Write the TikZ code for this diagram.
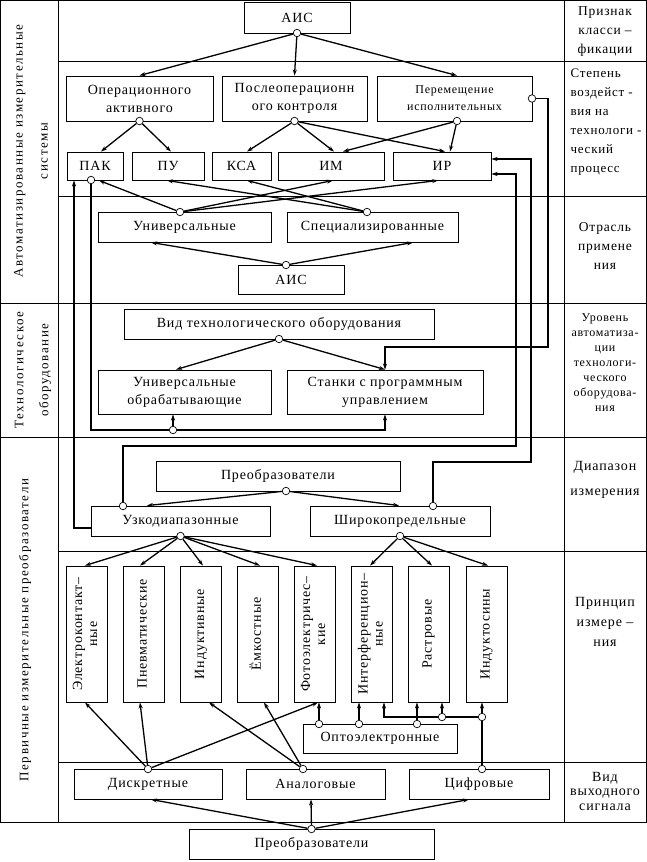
\documentclass[tikz,border=0pt]{standalone}
\usepackage{fontspec}
\setmainfont{Liberation Serif}[LetterSpace=6]
\usetikzlibrary{arrows.meta}
\newcommand{\rottext}[1]{\rotatebox{90}{\begin{tabular}{@{}c@{}}#1\end{tabular}}}

\begin{document}
\begin{tikzpicture}[x=1pt, y=-1pt,
  box/.style={draw, line width=0.9pt, inner sep=0pt, align=center,
    font=\fontsize{14}{18}\selectfont},
  vbox/.style={box, minimum width=41pt, minimum height=136pt,
    font=\fontsize{14}{15}\selectfont},
  dot/.style={circle, draw, fill=white, line width=0.7pt, inner sep=0pt,
    minimum size=7.5pt},
  arr/.style={line width=1.3pt, -{Stealth[length=6pt,width=4pt]}},
  wire/.style={line width=1.3pt},
  frame/.style={line width=0.8pt},
  side/.style={align=center, font=\fontsize{13.5}{19}\selectfont},
  vside/.style={rotate=90, align=center,
    font=\addfontfeature{LetterSpace=12}\fontsize{13}{25}\selectfont}]
  \useasboundingbox (0,0) rectangle (647,862);

  % frame of the table
  \draw[frame] (0.5,0.5) rectangle (646,822);
  \draw[frame] (58,0.5)  -- (58,822);
  \draw[frame] (564,0.5) -- (564,822);
  \draw[frame] (58,61)   -- (646,61);
  \draw[frame] (58,196)  -- (646,196);
  \draw[frame] (0.5,303) -- (646,303);
  \draw[frame] (0.5,437) -- (646,437);
  \draw[frame] (58,551)  -- (646,551);
  \draw[frame] (58,762)  -- (646,762);

  % left column
  \node[vside] (grpA) at (31,151) {Автоматизированные измерительные\\системы};
  \node[vside] (grpB) at (33,370) {Технологическое\\оборудование};
  \node[vside] (grpC) at (25,630) {Первичные измерительные преобразователи};

  % right column
  \node[side] (rowA) at (605,32) {Признак\\класси –\\фикации};
  \node[side, align=left, anchor=north west, font=\fontsize{13}{19}\selectfont] (rowB) at (567,65)
    {Степень\\воздейст -\\вия на\\технологи -\\ческий\\процесс};
  \node[side] (rowC) at (605,246) {Отрасль\\примене\\ния};
  \node[side, font=\fontsize{12}{15}\selectfont] (rowD) at (605,363)
    {Уровень\\автоматиза-\\ции\\технологи-\\ческого\\оборудова-\\ния};
  \node[side, font=\fontsize{14}{25}\selectfont] (rowE) at (605,480) {Диапазон\\измерения};
  \node[side, font=\fontsize{14}{20}\selectfont] (rowF) at (605,622) {Принцип\\измере –\\ния};
  \node[side, font=\fontsize{14}{14.5}\selectfont] (rowG) at (605,791) {Вид\\выходного\\сигнала};

  % boxes
  \node[box, minimum width=106pt, minimum height=31pt] (aisA)   at (297,17.5)  {АИС};
  \node[box, minimum width=147pt, minimum height=45pt] (op)     at (139.5,98.5) {Операционного\\активного};
  \node[box, minimum width=145pt, minimum height=45pt] (post)   at (294.5,98.5) {Послеоперационн\\ого контроля};
  \node[box, minimum width=155pt, minimum height=45pt,
        font=\fontsize{12}{17}\selectfont]            (move)   at (454.5,98.5) {Перемещение\\исполнительных};
  \node[box, minimum width=56pt,  minimum height=28pt] (pak)    at (95,166)    {ПАК};
  \node[box, minimum width=72pt,  minimum height=28pt] (pu)     at (168,166)   {ПУ};
  \node[box, minimum width=59pt,  minimum height=28pt] (ksa)    at (241.5,166) {КСА};
  \node[box, minimum width=106pt, minimum height=28pt] (im)     at (331,166)   {ИМ};
  \node[box, minimum width=98pt,  minimum height=28pt] (ir)     at (442,166)   {ИР};
  \node[box, minimum width=173pt, minimum height=30pt] (univ)   at (184.5,227) {Универсальные};
  \node[box, minimum width=171pt, minimum height=30pt] (spec)   at (372.5,227) {Специализированные};
  \node[box, minimum width=106pt, minimum height=29pt] (aisB)   at (291,279.5) {АИС};
  \node[box, minimum width=310pt, minimum height=30pt] (vid)    at (279,324)   {Вид технологического оборудования};
  \node[box, minimum width=173pt, minimum height=44pt] (obr)    at (184.5,392) {Универсальные\\обрабатывающие};
  \node[box, minimum width=196pt, minimum height=44pt] (stanki) at (385,392)   {Станки с программным\\управлением};
  \node[box, minimum width=244pt, minimum height=30pt] (preobA) at (278,476)   {Преобразователи};
  \node[box, minimum width=179pt, minimum height=30pt] (uzk)    at (180.5,521) {Узкодиапазонные};
  \node[box, minimum width=180pt, minimum height=30pt] (shir)   at (400,521)   {Широкопредельные};
  \node[vbox] (elk)   at (86.5,634)  {\rottext{Электроконтакт–\\ные}};
  \node[vbox] (pnev)  at (143.5,634) {\rottext{Пневматические}};
  \node[vbox] (ind)   at (201,634)   {\rottext{Индуктивные}};
  \node[vbox] (emk)   at (257.5,634) {\rottext{Ёмкостные}};
  \node[vbox] (foto)  at (314.5,634) {\rottext{Фотоэлектричес–\\кие}};
  \node[vbox] (intf)  at (372,634)   {\rottext{Интерференцион–\\ные}};
  \node[vbox] (rastr) at (428.5,634) {\rottext{Растровые}};
  \node[vbox] (indk)  at (486.5,634) {\rottext{Индуктосины}};
  \node[box, minimum width=154pt, minimum height=29pt] (opto)   at (380,738.5) {Оптоэлектронные};
  \node[box, minimum width=148pt, minimum height=30pt] (disk)   at (148,784)   {Дискретные};
  \node[box, minimum width=139pt, minimum height=30pt] (anal)   at (315.5,784) {Аналоговые};
  \node[box, minimum width=140pt, minimum height=30pt] (cifr)   at (479,784)   {Цифровые};
  \node[box, minimum width=245pt, minimum height=30pt] (preobB) at (311.5,844) {Преобразователи};

  % junction circles
  \node[dot] (aisAc)   at (297,33)    {};
  \node[dot] (opc)     at (139.5,121) {};
  \node[dot] (postc)   at (294.5,121) {};
  \node[dot] (movec)   at (457,121)   {};
  \node[dot] (moveE)   at (532,98.5)  {};
  \node[dot] (pakc)    at (91,180)    {};
  \node[dot] (univc)   at (180,212)   {};
  \node[dot] (specc)   at (367,212)   {};
  \node[dot] (aisBc)   at (286,265)   {};
  \node[dot] (vidc)    at (279,339)   {};
  \node[dot] (obrc)    at (173,430)   {};
  \node[dot] (preobAc) at (286,491)   {};
  \node[dot] (uzkT)    at (123,506)   {};
  \node[dot] (shirT)   at (433,506)   {};
  \node[dot] (uzkc)    at (180.5,536) {};
  \node[dot] (shirc)   at (400,536)   {};
  \node[dot] (optoA)   at (319,724)   {};
  \node[dot] (optoB)   at (359,724)   {};
  \node[dot] (optoC)   at (417,724)   {};
  \node[dot] (jA)      at (442,717)   {};
  \node[dot] (jB)      at (482,717)   {};
  \node[dot] (diskc)   at (148,769)   {};
  \node[dot] (analc)   at (303,769)   {};
  \node[dot] (cifrc)   at (482,769)   {};
  \node[dot] (preobBc) at (311.5,829) {};

  % bends of the long lines
  \coordinate (bendR) at (548,347);
  \coordinate (bendU) at (516,446);
  \coordinate (bendS) at (531,462);
  \coordinate (bendJ) at (384,717);

  % degree of action
  \draw[arr] (aisAc) -- (op.north);
  \draw[arr] (aisAc) -- (post.north);
  \draw[arr] (aisAc) -- ([xshift=2.5pt]move.north);
  \draw[arr] (opc)   -- ([xshift=6pt]pak.north);
  \draw[arr] (opc)   -- ([xshift=3pt]pu.north);
  \draw[arr] (postc) -- ([xshift=5.5pt]ksa.north);
  \draw[arr] (postc) -- ([xshift=3pt]im.north);
  \draw[arr] (postc) -- ([xshift=3pt]ir.north);
  \draw[arr] (movec) -- ([xshift=12pt]im.north);
  \draw[arr] (movec) -- ([xshift=8pt]ir.north);
  % field of use
  \draw[arr] (univc) -- ([xshift=4pt]pak.south);
  \draw[arr] (univc) -- ([xshift=2pt]im.south);
  \draw[arr] (univc) -- ([xshift=-4pt]ir.south);
  \draw[arr] (specc) -- ([xshift=-1pt]pu.south);
  \draw[arr] (specc) -- ([xshift=5.5pt]ksa.south);
  \draw[arr] (aisBc) -- ([xshift=-33.5pt]univ.south);
  \draw[arr] (aisBc) -- ([xshift=40.5pt]spec.south);
  % equipment
  \draw[arr]  (vidc) -- ([xshift=-8.5pt]obr.north);
  \draw[arr]  (vidc) -- (stanki.north);
  \draw[arr]  (obrc) -- (obrc |- obr.south);
  \draw[arr]  (obrc) -| (stanki.south);
  \draw[wire] (obrc) -| (pakc);
  \draw[arr]  (moveE) -| (bendR) -| (stanki.north);
  % range
  \draw[arr] (preobAc) -- ([xshift=-33.5pt]uzk.north);
  \draw[arr] (preobAc) -- ([xshift=-1pt]shir.north);
  \draw[arr] (uzkT)  |- (bendU) |- ([yshift=-8pt]ir.east);
  \draw[arr] (shirT) |- (bendS) |- ([yshift=7pt]ir.east);
  \draw[arr] ([yshift=-7pt]uzk.west) -| ([xshift=-21pt]pak.south);
  % principle
  \draw[arr] (uzkc)  -- ([xshift=-1.5pt]elk.north);
  \draw[arr] (uzkc)  -- ([xshift=-3.5pt]pnev.north);
  \draw[arr] (uzkc)  -- ([xshift=2pt]ind.north);
  \draw[arr] (uzkc)  -- ([xshift=2.5pt]emk.north);
  \draw[arr] (uzkc)  -- ([xshift=2.5pt]foto.north);
  \draw[arr] (shirc) -- ([xshift=-2pt]intf.north);
  \draw[arr] (shirc) -- ([xshift=3.5pt]rastr.north);
  \draw[arr] (shirc) -- ([xshift=1.5pt]indk.north);
  \draw[arr] (optoA) -- (optoA |- foto.south);
  \draw[arr] (optoB) -- (optoB |- intf.south);
  \draw[arr] (optoC) -- (optoC |- rastr.south);
  \draw[arr] (jA) -- (jA |- rastr.south);
  \draw[arr] (jB) -- (jB |- indk.south);
  \draw[wire] (cifrc) -- (jB);
  \draw[wire] (jB) -- (jA);
  \draw[arr]  (jA) -- (bendJ) -- (bendJ |- intf.south);
  % output signal
  \draw[arr] (diskc) -- ([xshift=-1.5pt]elk.south);
  \draw[arr] (diskc) -- ([xshift=-3.5pt]pnev.south);
  \draw[arr] (diskc) -- ([xshift=3.5pt]foto.south);
  \draw[arr] (analc) -- ([xshift=8pt]ind.south);
  \draw[arr] (analc) -- ([xshift=6.5pt]emk.south);
  \draw[arr] (preobBc) -- ([xshift=3pt]disk.south);
  \draw[arr] (preobBc) -- ([xshift=-4.5pt]anal.south);
  \draw[arr] (preobBc) -- ([xshift=-10pt]cifr.south);
\end{tikzpicture}
\end{document}
